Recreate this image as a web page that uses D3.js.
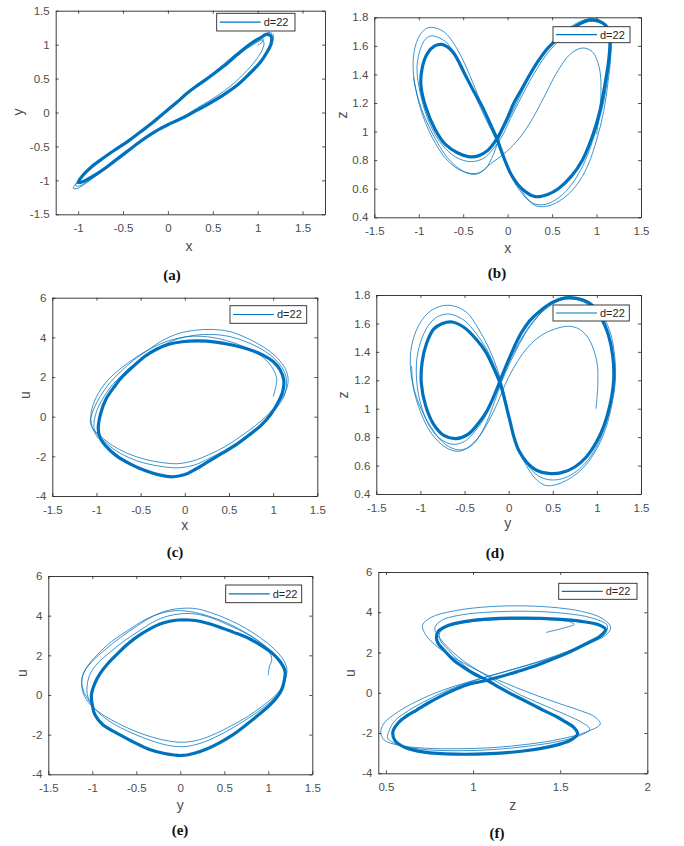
<!DOCTYPE html>
<html><head><meta charset="utf-8">
<script src="https://cdn.jsdelivr.net/npm/d3@7"></script>
<style>body{margin:0;background:#fff}svg{display:block}</style>
</head><body>
<svg id="chart" width="684" height="846"></svg>
<script>
// ---------------- DATA ----------------
const legendText = "d=22";
const captions = ["(a)","(b)","(c)","(d)","(e)","(f)"];
const axisNames = [["x","y"],["x","z"],["x","u"],["y","z"],["y","u"],["z","u"]];

const xTicksA = [-1,-0.5,0,0.5,1,1.5];
const yTicksA = [-1.5,-1,-0.5,0,0.5,1,1.5];
const xTicksStd = [-1.5,-1,-0.5,0,0.5,1,1.5];
const zTicks = [0.4,0.6,0.8,1,1.2,1.4,1.6,1.8];
const uTicks = [-4,-2,0,2,4,6];
const zTicksF = [0.5,1,1.5,2];

// (a) x-y
const a_main = [[-1.00,-1.03],[-0.95,-0.93],[-0.85,-0.80],[-0.72,-0.67],[-0.60,-0.56],[-0.45,-0.43],[-0.30,-0.28],[-0.18,-0.16],[-0.09,-0.06],[0.00,0.04],[0.10,0.15],[0.21,0.28],[0.33,0.40],[0.47,0.53],[0.62,0.68],[0.77,0.85],[0.90,0.99],[1.03,1.10],[1.10,1.15],[1.15,1.12],[1.15,1.02],[1.10,0.88],[1.03,0.74],[0.90,0.56],[0.77,0.40],[0.62,0.26],[0.47,0.14],[0.33,0.04],[0.21,-0.05],[0.10,-0.12],[0.00,-0.18],[-0.10,-0.25],[-0.20,-0.33],[-0.30,-0.42],[-0.46,-0.58],[-0.60,-0.72],[-0.72,-0.84],[-0.85,-0.95],[-0.95,-1.02]];
const a_outer1 = [[-1.055,-1.12],[-1.00,-1.01],[-0.90,-0.87],[-0.76,-0.71],[-0.62,-0.57],[-0.46,-0.43],[-0.30,-0.27],[-0.18,-0.15],[-0.08,-0.05],[0.02,0.06],[0.12,0.17],[0.23,0.30],[0.35,0.43],[0.49,0.56],[0.64,0.71],[0.79,0.87],[0.92,1.01],[1.05,1.12],[1.12,1.18],[1.17,1.15],[1.17,1.05],[1.12,0.90],[1.04,0.75],[0.91,0.57],[0.78,0.42],[0.63,0.27],[0.48,0.15],[0.33,0.04],[0.20,-0.06],[0.08,-0.14],[-0.02,-0.20],[-0.12,-0.27],[-0.22,-0.35],[-0.36,-0.48],[-0.52,-0.64],[-0.66,-0.79],[-0.80,-0.93],[-0.92,-1.05],[-1.01,-1.12]];
const a_outer2 = [[-1.03,-1.075],[-0.97,-0.97],[-0.87,-0.84],[-0.74,-0.69],[-0.60,-0.55],[-0.45,-0.42],[-0.30,-0.28],[-0.18,-0.16],[-0.08,-0.06],[0.01,0.04],[0.11,0.16],[0.22,0.29],[0.34,0.41],[0.48,0.54],[0.63,0.69],[0.77,0.84],[0.89,0.95],[0.99,1.03],[1.05,1.07],[1.07,1.02],[1.05,0.92],[0.99,0.79],[0.89,0.63],[0.76,0.46],[0.62,0.31],[0.47,0.18],[0.33,0.07],[0.21,-0.03],[0.10,-0.10],[0.00,-0.17],[-0.10,-0.24],[-0.20,-0.33],[-0.32,-0.45],[-0.48,-0.62],[-0.62,-0.76],[-0.75,-0.89],[-0.88,-1.00],[-0.98,-1.08]];
const a_tail = [[1.00,0.99],[1.05,1.04],[1.06,1.09],[1.01,1.10],[0.93,1.04],[0.82,0.93],[0.68,0.78],[0.52,0.60],[0.38,0.46],[0.24,0.33],[0.12,0.19],[0.02,0.07]];

// (b) x-z
const b_main = [[-0.74,1.61],[-0.62,1.56],[-0.48,1.40],[-0.38,1.28],[-0.29,1.18],[-0.20,1.06],[-0.12,0.95],[-0.05,0.83],[0.04,0.70],[0.16,0.60],[0.31,0.545],[0.45,0.56],[0.57,0.60],[0.72,0.69],[0.84,0.80],[0.96,0.98],[1.04,1.15],[1.10,1.35],[1.14,1.52],[1.15,1.64],[1.12,1.73],[1.03,1.77],[0.92,1.78],[0.80,1.75],[0.62,1.68],[0.46,1.59],[0.35,1.50],[0.25,1.40],[0.16,1.30],[0.07,1.20],[0.00,1.10],[-0.06,1.02],[-0.12,0.95],[-0.22,0.87],[-0.33,0.83],[-0.44,0.825],[-0.56,0.85],[-0.70,0.91],[-0.82,1.02],[-0.92,1.17],[-0.975,1.32],[-0.96,1.45],[-0.90,1.55],[-0.82,1.60]];
const b_outer1 = [[-0.87,1.73],[-0.72,1.70],[-0.57,1.58],[-0.43,1.40],[-0.30,1.20],[-0.18,1.02],[-0.08,0.86],[0.02,0.72],[0.14,0.60],[0.28,0.50],[0.42,0.49],[0.58,0.54],[0.72,0.63],[0.86,0.78],[0.98,0.98],[1.07,1.18],[1.13,1.40],[1.16,1.58],[1.13,1.72],[1.04,1.78],[0.92,1.79],[0.78,1.76],[0.60,1.68],[0.44,1.57],[0.30,1.44],[0.18,1.30],[0.07,1.16],[-0.02,1.05],[-0.09,0.96],[-0.16,0.84],[-0.25,0.74],[-0.37,0.70],[-0.52,0.73],[-0.68,0.82],[-0.84,0.98],[-0.97,1.16],[-1.05,1.35],[-1.06,1.52],[-1.01,1.65],[-0.94,1.71]];
const b_outer2 = [[-0.85,1.67],[-0.70,1.63],[-0.55,1.50],[-0.42,1.33],[-0.30,1.16],[-0.20,1.03],[-0.11,0.92],[-0.03,0.79],[0.07,0.65],[0.20,0.54],[0.32,0.48],[0.46,0.48],[0.62,0.53],[0.77,0.62],[0.90,0.76],[1.00,0.94],[1.08,1.14],[1.13,1.35],[1.16,1.53],[1.16,1.66],[1.11,1.745],[1.02,1.775],[0.90,1.77],[0.76,1.73],[0.60,1.65],[0.45,1.55],[0.33,1.44],[0.22,1.32],[0.12,1.20],[0.03,1.09],[-0.06,0.97],[-0.16,0.88],[-0.28,0.81],[-0.42,0.79],[-0.58,0.82],[-0.74,0.91],[-0.88,1.06],[-0.98,1.26],[-1.02,1.45],[-0.98,1.58],[-0.92,1.65]];
const b_tail = [[1.00,0.98],[1.03,1.12],[1.05,1.28],[1.03,1.45],[0.95,1.56],[0.84,1.585],[0.70,1.54],[0.55,1.41],[0.40,1.23],[0.25,1.06],[0.10,0.93],[-0.05,0.84],[-0.18,0.78],[-0.33,0.71],[-0.50,0.72],[-0.68,0.80],[-0.85,0.96],[-0.98,1.16],[-1.06,1.38]];

// (c) x-u
const c_main = [[-0.98,-0.6],[-0.95,0.2],[-0.89,0.9],[-0.80,1.5],[-0.70,2.05],[-0.58,2.55],[-0.45,3.05],[-0.32,3.40],[-0.18,3.65],[-0.03,3.78],[0.15,3.82],[0.35,3.76],[0.55,3.60],[0.72,3.40],[0.88,3.12],[1.00,2.78],[1.08,2.35],[1.12,1.85],[1.11,1.3],[1.06,0.75],[0.97,0.1],[0.86,-0.45],[0.72,-0.95],[0.57,-1.45],[0.42,-1.85],[0.27,-2.25],[0.12,-2.65],[0.0,-2.92],[-0.13,-3.03],[-0.28,-2.95],[-0.45,-2.72],[-0.62,-2.38],[-0.78,-1.95],[-0.89,-1.5],[-0.96,-1.05]];
const c_outer1 = [[-1.07,-0.25],[-1.03,0.4],[-0.96,1.0],[-0.86,1.65],[-0.72,2.3],[-0.58,2.85],[-0.42,3.35],[-0.25,3.85],[-0.08,4.18],[0.10,4.35],[0.30,4.40],[0.50,4.30],[0.66,4.05],[0.82,3.70],[0.96,3.30],[1.08,2.80],[1.15,2.30],[1.17,1.80],[1.14,1.25],[1.06,0.70],[0.94,0.10],[0.80,-0.45],[0.63,-1.0],[0.46,-1.50],[0.28,-1.90],[0.10,-2.22],[-0.08,-2.37],[-0.25,-2.32],[-0.45,-2.15],[-0.65,-1.85],[-0.82,-1.45],[-0.95,-1.0],[-1.04,-0.6]];
const c_outer2 = [[-1.03,-0.45],[-1.0,0.25],[-0.93,0.9],[-0.83,1.55],[-0.70,2.15],[-0.56,2.7],[-0.41,3.2],[-0.25,3.6],[-0.08,3.92],[0.10,4.10],[0.30,4.15],[0.50,4.05],[0.67,3.82],[0.83,3.50],[0.97,3.10],[1.08,2.60],[1.14,2.10],[1.15,1.55],[1.12,1.0],[1.04,0.45],[0.92,-0.15],[0.78,-0.70],[0.62,-1.22],[0.45,-1.70],[0.28,-2.10],[0.10,-2.45],[-0.08,-2.58],[-0.25,-2.52],[-0.45,-2.35],[-0.64,-2.05],[-0.81,-1.62],[-0.93,-1.15],[-1.01,-0.8]];
const c_tail = [[1.0,1.0],[1.03,1.5],[1.04,1.93],[1.0,2.4],[0.92,2.85],[0.80,3.25],[0.62,3.62],[0.42,3.9],[0.2,4.05],[0.0,4.02],[-0.2,3.8],[-0.38,3.45],[-0.55,3.0],[-0.72,2.45],[-0.88,1.8],[-1.0,1.0],[-1.06,0.2],[-1.05,-0.5],[-0.98,-1.1]];

// (d) y-z
const d_main = [[-0.64,1.61],[-0.50,1.57],[-0.37,1.49],[-0.26,1.40],[-0.18,1.30],[-0.11,1.20],[-0.06,1.10],[-0.02,1.00],[0.02,0.90],[0.06,0.80],[0.12,0.70],[0.21,0.62],[0.32,0.565],[0.45,0.545],[0.60,0.55],[0.75,0.59],[0.88,0.66],[0.99,0.76],[1.08,0.88],[1.15,1.03],[1.19,1.20],[1.18,1.37],[1.13,1.52],[1.04,1.65],[0.92,1.74],[0.78,1.775],[0.64,1.78],[0.50,1.75],[0.36,1.69],[0.24,1.62],[0.14,1.53],[0.06,1.43],[-0.01,1.33],[-0.07,1.24],[-0.12,1.16],[-0.18,1.07],[-0.25,0.98],[-0.34,0.90],[-0.46,0.82],[-0.60,0.79],[-0.73,0.81],[-0.85,0.89],[-0.94,1.02],[-0.99,1.18],[-0.98,1.33],[-0.93,1.46],[-0.85,1.56],[-0.75,1.60]];
const d_outer1 = [[-0.64,1.725],[-0.48,1.68],[-0.34,1.56],[-0.22,1.42],[-0.13,1.28],[-0.07,1.16],[-0.02,1.02],[0.03,0.86],[0.10,0.72],[0.20,0.60],[0.30,0.51],[0.42,0.46],[0.56,0.47],[0.72,0.52],[0.87,0.60],[1.00,0.72],[1.10,0.86],[1.17,1.03],[1.21,1.20],[1.20,1.38],[1.15,1.54],[1.05,1.67],[0.92,1.75],[0.78,1.78],[0.62,1.775],[0.46,1.73],[0.32,1.64],[0.18,1.52],[0.06,1.38],[-0.04,1.25],[-0.12,1.12],[-0.20,0.98],[-0.30,0.84],[-0.42,0.74],[-0.56,0.71],[-0.72,0.75],[-0.88,0.87],[-1.02,1.04],[-1.10,1.22],[-1.11,1.40],[-1.04,1.56],[-0.92,1.67],[-0.78,1.72]];
const d_outer2 = [[-0.66,1.665],[-0.50,1.62],[-0.37,1.53],[-0.25,1.42],[-0.16,1.30],[-0.09,1.19],[-0.04,1.07],[0.00,0.94],[0.05,0.82],[0.12,0.70],[0.22,0.60],[0.33,0.53],[0.46,0.50],[0.62,0.51],[0.77,0.56],[0.90,0.64],[1.01,0.75],[1.10,0.89],[1.16,1.05],[1.19,1.22],[1.17,1.39],[1.11,1.54],[1.01,1.66],[0.88,1.74],[0.74,1.77],[0.60,1.765],[0.46,1.72],[0.32,1.645],[0.19,1.54],[0.08,1.42],[-0.02,1.30],[-0.10,1.19],[-0.18,1.06],[-0.26,0.95],[-0.37,0.85],[-0.50,0.77],[-0.64,0.75],[-0.78,0.79],[-0.90,0.88],[-0.99,1.02],[-1.04,1.18],[-1.04,1.35],[-0.98,1.50],[-0.88,1.61],[-0.78,1.655]];
const d_tail = [[0.99,1.0],[1.01,1.17],[1.0,1.33],[0.91,1.49],[0.80,1.56],[0.68,1.58],[0.52,1.56],[0.38,1.52],[0.26,1.46],[0.15,1.38],[0.05,1.28],[-0.04,1.17],[-0.12,1.05],[-0.22,0.92],[-0.34,0.80],[-0.48,0.72],[-0.58,0.70],[-0.72,0.73],[-0.88,0.83],[-1.0,0.98],[-1.08,1.15],[-1.10,1.30]];

// (e) y-u
const e_main = [[-1.01,0.0],[-0.97,0.6],[-0.91,1.09],[-0.82,1.6],[-0.71,2.1],[-0.59,2.6],[-0.46,3.03],[-0.34,3.35],[-0.23,3.58],[-0.12,3.72],[-0.02,3.78],[0.10,3.78],[0.22,3.72],[0.41,3.48],[0.60,3.17],[0.78,2.85],[0.94,2.44],[1.06,2.05],[1.14,1.65],[1.19,1.2],[1.18,0.7],[1.15,0.25],[1.10,-0.1],[1.02,-0.5],[0.89,-1.0],[0.75,-1.5],[0.60,-2.0],[0.45,-2.4],[0.30,-2.72],[0.15,-2.95],[0.02,-3.05],[-0.18,-2.95],[-0.35,-2.75],[-0.52,-2.4],[-0.69,-2.0],[-0.88,-1.5],[-0.97,-1.0],[-1.0,-0.5]];
const e_outer1 = [[-1.12,0.6],[-1.10,1.1],[-1.0,1.7],[-0.85,2.3],[-0.68,2.9],[-0.50,3.45],[-0.32,3.95],[-0.15,4.25],[0.02,4.37],[0.18,4.35],[0.35,4.15],[0.55,3.8],[0.75,3.35],[0.92,2.85],[1.06,2.35],[1.16,1.85],[1.21,1.35],[1.20,0.85],[1.15,0.35],[1.06,-0.1],[0.92,-0.6],[0.76,-1.1],[0.58,-1.55],[0.40,-1.95],[0.22,-2.25],[0.05,-2.38],[-0.12,-2.33],[-0.30,-2.15],[-0.50,-1.85],[-0.70,-1.45],[-0.88,-1.0],[-1.02,-0.5],[-1.10,0.05]];
const e_outer2 = [[-1.06,0.4],[-1.03,1.0],[-0.95,1.55],[-0.80,2.15],[-0.63,2.75],[-0.46,3.25],[-0.30,3.7],[-0.14,3.98],[0.02,4.10],[0.18,4.08],[0.36,3.88],[0.56,3.5],[0.75,3.1],[0.91,2.65],[1.04,2.2],[1.14,1.7],[1.19,1.25],[1.19,0.8],[1.15,0.3],[1.07,-0.15],[0.94,-0.65],[0.78,-1.15],[0.60,-1.65],[0.42,-2.08],[0.24,-2.42],[0.06,-2.6],[-0.10,-2.57],[-0.28,-2.38],[-0.48,-2.05],[-0.68,-1.65],[-0.86,-1.15],[-0.99,-0.6],[-1.05,-0.1]];
const e_tail = [[1.0,1.0],[1.01,1.4],[1.04,1.8],[1.0,2.25],[0.88,2.75],[0.72,3.2],[0.52,3.65],[0.32,3.98],[0.12,4.2],[-0.05,4.25],[-0.22,4.12],[-0.40,3.8],[-0.58,3.3],[-0.78,2.7],[-0.95,2.0],[-1.07,1.35],[-1.12,0.76],[-1.1,0.2],[-1.02,-0.4]];

// (f) z-u
const f_main = [[0.79,2.71],[0.80,3.05],[0.86,3.35],[0.96,3.55],[1.10,3.67],[1.30,3.71],[1.48,3.66],[1.62,3.55],[1.72,3.38],[1.76,3.15],[1.73,2.82],[1.64,2.40],[1.537,1.96],[1.44,1.62],[1.346,1.30],[1.25,1.04],[1.155,0.80],[1.08,0.62],[0.963,0.39],[0.88,0.10],[0.81,-0.19],[0.74,-0.52],[0.676,-0.86],[0.62,-1.15],[0.57,-1.50],[0.54,-1.93],[0.55,-2.35],[0.61,-2.72],[0.72,-2.95],[0.90,-3.05],[1.10,-3.02],[1.30,-2.88],[1.46,-2.64],[1.56,-2.35],[1.60,-2.05],[1.575,-1.69],[1.53,-1.45],[1.48,-1.19],[1.41,-0.90],[1.346,-0.61],[1.28,-0.32],[1.212,-0.03],[1.14,0.32],[1.08,0.62],[1.00,0.97],[0.94,1.30],[0.887,1.63],[0.84,2.05],[0.80,2.45]];
const f_outer1 = [[0.71,3.37],[0.76,3.75],[0.88,4.05],[1.05,4.25],[1.25,4.32],[1.45,4.25],[1.62,4.05],[1.74,3.7],[1.79,3.25],[1.76,2.85],[1.66,2.45],[1.54,2.05],[1.40,1.62],[1.25,1.22],[1.10,0.85],[0.95,0.48],[0.80,0.05],[0.67,-0.45],[0.56,-1.0],[0.49,-1.5],[0.47,-1.95],[0.49,-2.35],[0.57,-2.6],[0.72,-2.75],[0.92,-2.78],[1.12,-2.72],[1.32,-2.55],[1.50,-2.3],[1.65,-1.95],[1.73,-1.55],[1.70,-1.2],[1.62,-0.9],[1.50,-0.55],[1.37,-0.15],[1.25,0.25],[1.14,0.65],[1.04,1.05],[0.94,1.50],[0.84,2.0],[0.76,2.55],[0.72,3.0]];
const f_outer2 = [[0.78,3.2],[0.82,3.6],[0.94,3.88],[1.12,4.02],[1.32,4.05],[1.52,3.95],[1.68,3.72],[1.77,3.35],[1.76,2.95],[1.69,2.55],[1.58,2.12],[1.45,1.72],[1.30,1.33],[1.15,0.97],[1.00,0.58],[0.86,0.15],[0.74,-0.35],[0.63,-0.88],[0.55,-1.4],[0.52,-1.85],[0.51,-2.25],[0.57,-2.58],[0.70,-2.8],[0.90,-2.88],[1.12,-2.82],[1.32,-2.65],[1.50,-2.4],[1.62,-2.1],[1.67,-1.8],[1.62,-1.45],[1.54,-1.12],[1.45,-0.78],[1.36,-0.45],[1.27,-0.1],[1.19,0.28],[1.11,0.68],[1.03,1.1],[0.95,1.55],[0.88,2.05],[0.82,2.6]];
const f_tail = [[1.00,1.00],[0.95,1.35],[0.90,1.75],[0.85,2.20],[0.81,2.65],[0.81,3.00],[0.86,3.30],[0.96,3.50],[1.12,3.62],[1.30,3.66],[1.46,3.62],[1.56,3.52],[1.58,3.40],[1.52,3.22],[1.42,3.00]];

// ---------------- LAYOUT ----------------
const layout = [
  {box:[55.7,10.7,325,214.3], xd:[-1.25,1.75], yd:[-1.5,1.5], xt:xTicksA, yt:yTicksA, leg:[216.7,13.3,295,31], xl:[189,246], yl:[18,112], cap:[172,275], loops:[a_outer1,a_outer2], main:a_main, tail:a_tail},
  {box:[374.3,17.3,641,217.3], xd:[-1.5,1.5], yd:[0.4,1.8], xt:xTicksStd, yt:zTicks, leg:[553,26.7,630,42.7], xl:[507.7,248], yl:[342,115], cap:[497,273], loops:[b_outer1,b_outer2], main:b_main, tail:b_tail},
  {box:[52.3,297.7,317.3,496], xd:[-1.5,1.5], yd:[-4,6], xt:xTicksStd, yt:uTicks, leg:[230,305.7,306.7,323.3], xl:[184.7,525], yl:[25,395], cap:[175,552], loops:[c_outer1,c_outer2], main:c_main, tail:c_tail},
  {box:[376.3,295,641,494], xd:[-1.5,1.5], yd:[0.4,1.8], xt:xTicksStd, yt:zTicks, leg:[553,305,629.3,321], xl:[507.7,523], yl:[343.5,395], cap:[495,553], loops:[d_outer1,d_outer2], main:d_main, tail:d_tail},
  {box:[48.3,576,312.3,774.3], xd:[-1.5,1.5], yd:[-4,6], xt:xTicksStd, yt:uTicks, leg:[225.7,585,301.7,602.7], xl:[180.3,805], yl:[21.7,673], cap:[180,830], loops:[e_outer1,e_outer2], main:e_main, tail:e_tail},
  {box:[378.3,572,647.3,773.3], xd:[0.456,2], yd:[-4,6], xt:zTicksF, yt:uTicks, leg:[558.7,583.3,637,599.3], xl:[512.7,805], yl:[350.3,673], cap:[497,833], loops:[f_outer1,f_outer2], main:f_main, tail:f_tail}
];

const BLUE = "#0072BD";
const AXC = "#262626";
const TXC = "#4d4d4d";
const FONT = "'Liberation Sans', Arial, Helvetica, sans-serif";

const svg = d3.select("#chart");
const defs = svg.append("defs");

layout.forEach((p, i) => {
  const [L,T,R,B] = p.box;
  const x = d3.scaleLinear().domain(p.xd).range([L,R]);
  const y = d3.scaleLinear().domain(p.yd).range([B,T]);
  const g = svg.append("g");

  defs.append("clipPath").attr("id","clip"+i).append("rect")
    .attr("x",L).attr("y",T).attr("width",R-L).attr("height",B-T);

  const closed = d3.line().x(d=>x(d[0])).y(d=>y(d[1])).curve(d3.curveCatmullRomClosed.alpha(0.5));
  const open = d3.line().x(d=>x(d[0])).y(d=>y(d[1])).curve(d3.curveCatmullRom.alpha(0.5));

  const dg = g.append("g").attr("clip-path","url(#clip"+i+")").attr("fill","none");
  p.loops.forEach(lp => dg.append("path").attr("d", closed(lp)).attr("stroke", BLUE).attr("stroke-width", 0.9).attr("stroke-opacity",0.85));
  dg.append("path").attr("d", open(p.tail)).attr("stroke", BLUE).attr("stroke-width", 0.9).attr("stroke-opacity",0.85);
  dg.append("path").attr("d", closed(p.main)).attr("stroke", BLUE).attr("stroke-width", 3.2).attr("stroke-linejoin","round");

  const fmt = d => String(d);
  const tl = 3;
  const styleAxis = sel => {
    sel.attr("font-family", FONT).attr("font-size", 11.5);
    sel.selectAll(".domain").attr("stroke", AXC).attr("stroke-width", 0.9);
    sel.selectAll(".tick line").attr("stroke", AXC).attr("stroke-width", 0.8);
    sel.selectAll(".tick text").attr("fill", TXC);
  };
  g.append("g").attr("transform",`translate(0,${B})`)
    .call(d3.axisBottom(x).tickValues(p.xt).tickSizeInner(-tl).tickSizeOuter(0).tickPadding(10).tickFormat(fmt)).call(styleAxis);
  g.append("g").attr("transform",`translate(0,${T})`)
    .call(d3.axisTop(x).tickValues(p.xt).tickSizeInner(-tl).tickSizeOuter(0).tickFormat("")).call(styleAxis);
  g.append("g").attr("transform",`translate(${L},0)`)
    .call(d3.axisLeft(y).tickValues(p.yt).tickSizeInner(-tl).tickSizeOuter(0).tickPadding(6).tickFormat(fmt)).call(styleAxis);
  g.append("g").attr("transform",`translate(${R},0)`)
    .call(d3.axisRight(y).tickValues(p.yt).tickSizeInner(-tl).tickSizeOuter(0).tickFormat("")).call(styleAxis);

  // axis labels
  g.append("text").attr("x", p.xl[0]).attr("y", p.xl[1]).attr("dy","0.35em")
    .attr("text-anchor","middle").attr("font-family",FONT).attr("font-size",14).attr("fill",TXC)
    .text(axisNames[i][0]);
  g.append("text").attr("transform",`translate(${p.yl[0]},${p.yl[1]}) rotate(-90)`).attr("dy","0.35em")
    .attr("text-anchor","middle").attr("font-family",FONT).attr("font-size",14).attr("fill",TXC)
    .text(axisNames[i][1]);

  // legend
  const [lx0,ly0,lx1,ly1] = p.leg;
  const lg = g.append("g");
  lg.append("rect").attr("x",lx0).attr("y",ly0).attr("width",lx1-lx0).attr("height",ly1-ly0)
    .attr("fill","#fff").attr("stroke",AXC).attr("stroke-width",0.9);
  const my = (ly0+ly1)/2;
  lg.append("line").attr("x1",lx0+3).attr("x2",lx0+44).attr("y1",my).attr("y2",my)
    .attr("stroke",BLUE).attr("stroke-width",1.2);
  lg.append("text").attr("x",lx0+47).attr("y",my).attr("dy","0.35em")
    .attr("font-family",FONT).attr("font-size",11).attr("fill",AXC).text(legendText);

  // caption
  svg.append("text").attr("x",p.cap[0]).attr("y",p.cap[1]).attr("dy","0.35em")
    .attr("text-anchor","middle").attr("font-family","'Liberation Serif','Times New Roman',serif")
    .attr("font-weight","bold").attr("font-size",15).attr("fill","#111").text(captions[i]);
});
</script>
</body></html>
